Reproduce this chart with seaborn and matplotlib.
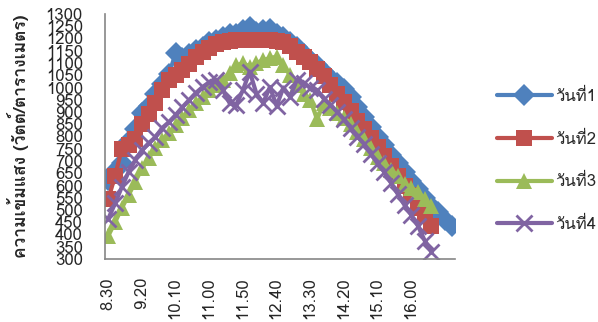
import numpy as np
import pandas as pd
import matplotlib
matplotlib.use("Agg")
import matplotlib.pyplot as plt
import seaborn as sns
from matplotlib import font_manager
from matplotlib.ft2font import FT2Font

# time of day, one reading every 10 minutes
times = ["8.30", "8.40", "8.50", "9.00", "9.10", "9.20", "9.30", "9.40", "9.50",
         "10.00", "10.10", "10.20", "10.30", "10.40", "10.50",
         "11.00", "11.10", "11.20", "11.30", "11.40", "11.50",
         "12.00", "12.10", "12.20", "12.30", "12.40", "12.50",
         "13.00", "13.10", "13.20", "13.30", "13.40", "13.50",
         "14.00", "14.10", "14.20", "14.30", "14.40", "14.50",
         "15.00", "15.10", "15.20", "15.30", "15.40", "15.50",
         "16.00", "16.10", "16.20", "16.30", "16.40", "16.50", "17.00"]

day1 = [622, 660, 690, 780, 830, 895, 925, 975, 1015, 1055, 1140, 1120, 1138,
        1152, 1165, 1185, 1195, 1205, 1218, 1220, 1233, 1247, 1225, 1233, 1237,
        1220, 1205, 1186, 1165, 1138, 1112, 1090, 1065, 1040, 1020, 995, 960,
        920, 880, 840, 800, 765, 725, 690, 655, 620, 585, 550, 515, 490, 460, 435]
day2 = [545, 640, 750, 765, 790, 850, 890, 935, 990, 1030, 1050, 1071, 1097,
        1124, 1145, 1162, 1178, 1186, 1190, 1192, 1192, 1192, 1192, 1192, 1192,
        1190, 1186, 1170, 1145, 1124, 1105, 1075, 1045, 1010, 975, 940, 905,
        865, 830, 795, 757, 720, 680, 640, 600, 560, 510, 475, 435]
day3 = [395, 450, 508, 560, 615, 670, 712, 753, 786, 814, 847, 876, 908,
        937, 961, 990, 1010, 1031, 1059, 1090, 1100, 1085, 1100, 1112, 1120,
        1126, 1090, 1050, 1010, 975, 950, 870, 935, 915, 895, 875, 850,
        820, 790, 755, 715, 690, 665, 640, 605, 590, 575, 545, 515]
day4 = [465, 527, 594, 655, 704, 745, 773, 798, 835, 859, 888, 920, 949,
        978, 1002, 1022, 1031, 990, 937, 930, 990, 1065, 975, 937, 1002,
        925, 1000, 961, 1031, 1018, 1000, 990, 955, 930, 900, 870, 835,
        800, 770, 730, 690, 655, 610, 565, 520, 480, 435, 375, 330]

series_names = ["วันที่1", "วันที่2", "วันที่3", "วันที่4"]
colors = ["#4F81BD", "#C0504D", "#9BBB59", "#8064A2"]
markers = ["D", "s", "^", "x"]
y_ticks = list(range(300, 1301, 50))
y_title = "ความเข้มแสง (วัตต์/ตารางเมตร)"


def find_thai_font():
    # pick the first installed family that has Thai glyphs
    for f in font_manager.fontManager.ttflist:
        try:
            if 0x0E27 in FT2Font(f.fname).get_charmap():
                return f.name
        except Exception:
            pass
    return "DejaVu Sans"


sns.set_style("white")
thai = find_thai_font()
plt.rcParams["font.family"] = [thai, "DejaVu Sans"]

fig = plt.figure(figsize=(5.98, 3.22), dpi=100)
ax = fig.add_axes([105 / 598, 63 / 322, 350 / 598, 245 / 322])

rows = []
for name, vals in zip(series_names, [day1, day2, day3, day4]):
    for i, v in enumerate(vals):
        rows.append({"series": name, "idx": i, "value": v})
df = pd.DataFrame(rows)

for name, color, mk in zip(series_names, colors, markers):
    sub = df[df["series"] == name]
    sns.lineplot(data=sub, x="idx", y="value", ax=ax, color=color, lw=3,
                 marker=mk, markersize=11,
                 markeredgewidth=0 if mk != "x" else 2,
                 markeredgecolor=color, label=name, legend=False)

ax.set_xlim(-0.5, len(times) - 0.5)
ax.set_ylim(300, 1300)
ax.set_yticks(y_ticks)
ax.set_yticklabels([str(t) for t in y_ticks], fontsize=12)
ax.set_xticks(range(0, 46, 5))
ax.set_xticklabels(times[0:46:5], rotation=90, fontsize=12)
ax.tick_params(axis="y", length=0, pad=16)
ax.tick_params(axis="x", length=0, pad=13)
ax.set_xlabel("")
ax.set_ylabel("")

for side in ["top", "right"]:
    ax.spines[side].set_visible(False)
for side in ["left", "bottom"]:
    ax.spines[side].set_color("#868686")
    ax.spines[side].set_linewidth(1.2)

fig.text(18 / 598, (322 - 136) / 322, y_title, rotation=90, ha="center",
         va="center", fontsize=12.5, fontweight="bold")

handles, labels = ax.get_legend_handles_labels()
fig.legend(handles, labels, loc="center left",
           bbox_to_anchor=(490 / 598, (322 - 161) / 322), frameon=False,
           fontsize=12, handlelength=3.3, handletextpad=0.2, labelspacing=1.6,
           borderaxespad=0)

fig.savefig("out.png", dpi=100)
